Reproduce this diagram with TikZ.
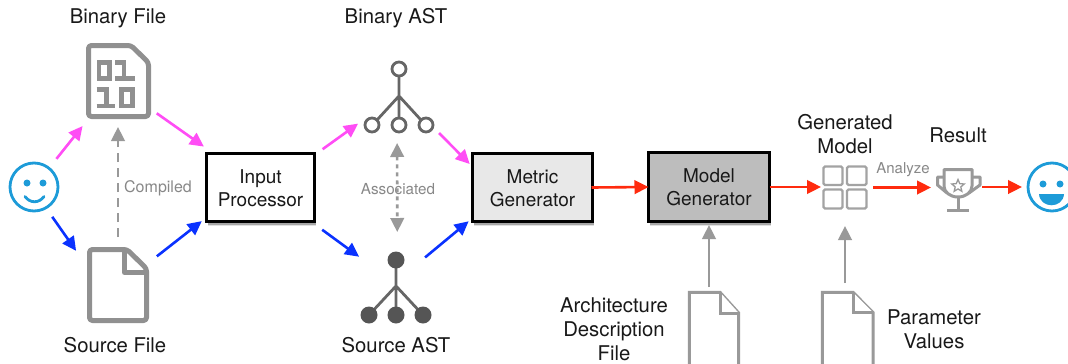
\documentclass[tikz,border=0pt]{standalone}
\usepackage{fontspec}
\setmainfont{TeX Gyre Heros}
\usetikzlibrary{arrows.meta,shadows,shapes.geometric}
\definecolor{pinkc}{HTML}{FF4DF5}
\definecolor{bluec}{HTML}{0A32FF}
\definecolor{redc}{HTML}{FF2B0E}
\definecolor{greyc}{HTML}{999999}
\definecolor{iconc}{HTML}{909090}
\definecolor{astc}{HTML}{666666}
\definecolor{astf}{HTML}{555555}
\definecolor{smilec}{HTML}{1D9BD8}
\definecolor{labelc}{HTML}{888888}
\newcommand\bxl[1]{\smash{\raisebox{-7.5pt}{#1}}}
\newcommand\bxm[1]{\smash{\raisebox{-7pt}{#1}}}
\tikzset{
  lbl/.style={inner sep=0,align=center,text=black!90,font=\fontsize{20.3}{24}\selectfont},
  small/.style={inner sep=0,text=labelc,font=\fontsize{16}{19}\selectfont},
  procbox/.style={draw=black,line width=3pt,inner sep=0,outer sep=0,align=center,
    font=\fontsize{19}{23}\selectfont,text=black!90,
    drop shadow={shadow xshift=1.5pt,shadow yshift=-4.5pt,opacity=.12,fill=black},
    drop shadow={shadow xshift=1pt,shadow yshift=-3pt,opacity=.25,fill=black}},
  hold/.style={inner sep=0,outer sep=0,rectangle},
  arr/.style={line width=2.6pt,-{Triangle[length=14pt,width=13.5pt]}},
  pinkarr/.style={arr,color=pinkc},
  bluearr/.style={arr,color=bluec},
  redarr/.style={arr,color=redc},
  greyarr/.style={arr,color=greyc},
  iconline/.style={draw=iconc,line width=5pt,line join=round},
  digit/.style={draw=iconc,line width=4.8pt},
  paper/.style={draw=greyc,line width=3pt,fill=white},
  astl/.style={draw=astc,line width=2.8pt},
  cell/.style={draw=greyc!90,line width=2.2pt,rounded corners=1.5pt},
  cup/.style={draw=greyc,line width=3pt,line join=round},
  smile/.style={draw=smilec,line width=2.8pt},
}
\begin{document}
\begin{tikzpicture}[x=1pt,y=-1pt]
\clip (0,0) rectangle (1068,364);
\fill[white] (0,0) rectangle (1068,364);

% placeholders for icons
\node[hold,circle,minimum size=50pt] (smileL) at (34,187) {};
\node[hold,circle,minimum size=50pt] (smileR) at (1052,187) {};
\node[hold,minimum width=65pt,minimum height=76pt] (binfile) at (118.5,81) {};
\node[hold,minimum width=62pt,minimum height=76pt] (srcfile) at (118,285) {};
\node[hold,minimum width=70pt,minimum height=71pt] (binast) at (399,97.5) {};
\node[hold,minimum width=70pt,minimum height=73pt] (srcast) at (396,287.5) {};
\node[hold,minimum width=44pt,minimum height=43pt] (grid) at (845,187.5) {};
\node[hold,minimum width=43pt,minimum height=44pt] (trophy) at (958.5,190) {};
\node[hold,minimum width=52pt,minimum height=89pt] (archfile) at (714,335.5) {};
\node[hold,minimum width=53pt,minimum height=89pt] (paramfile) at (847.5,335.5) {};

% boxes
\node[procbox,fill=white,minimum width=108pt,minimum height=68pt] (input) at (260.5,187.5) {\bxl{Input}\\\bxl{Processor}};
\node[procbox,fill=black!9,minimum width=120pt,minimum height=68pt] (metric) at (532.5,187.5) {\bxl{Metric}\\\bxl{Generator}};
\node[procbox,fill=black!26,minimum width=121pt,minimum height=69pt] (model) at (709,187) {\bxm{Model}\\\bxm{Generator}};

% labels
\node[lbl] (tbinfile) at (118,18) {Binary File};
\node[lbl] (tsrcfile) at (115,345) {Source File};
\node[lbl] (tbinast) at (396,18) {Binary AST};
\node[lbl] (tsrcast) at (396,345) {Source AST};
\node[lbl] (tarch) at (614,329) {Architecture\\Description\\File};
\node[lbl] (tparam) at (934,329.5) {Parameter\\Values};
\node[lbl] (tgen) at (845,134.5) {Generated\\Model};
\node[lbl] (tres) at (958,135) {Result};
\node[small] (tcomp) at (158,188) {Compiled};
\node[small,font=\fontsize{15.2}{18}\selectfont] (tassoc) at (398,189) {Associated};
\node[small,font=\fontsize{15}{18}\selectfont] (tana) at (903,170) {Analyze};

% smileys
\draw[smile] (smileL) circle (24pt);
\fill[smilec] (27,183) circle (3.5pt) (43,183) circle (3.5pt);
\draw[smile,line cap=round] (25,196.5) .. controls (30,203.5) and (39,203.5) .. (44,196.5);
\draw[smile] (smileR) circle (24pt);
\fill[smilec] (1043,184) circle (3.5pt) (1060,184) circle (3.5pt);
\fill[smilec] (1039,194) -- (1064,194) .. controls (1063,209) and (1040,209) .. (1039,194) -- cycle;

% binary file icon
\draw[iconline,rounded corners=3pt] (88.5,45.5) -- (131,45.5) -- (148.5,62.5) -- (148.5,116.5) -- (88.5,116.5) -- cycle;
\draw[digit] (99,62.4) rectangle (109.4,78.3);
\draw[digit] (115,62.4) -- (124,62.4) -- (124,78.3) (115,78.3) -- (135,78.3);
\draw[digit] (96.7,89.6) -- (106.5,89.6) -- (106.5,106) (96.7,106) -- (115,106);
\draw[digit] (121.7,89.6) rectangle (132.6,106);

% source file icon
\draw[iconline,rounded corners=3pt] (89.5,249.5) -- (127,249.5) -- (146.5,268.5) -- (146.5,320.5) -- (89.5,320.5) -- cycle;
\draw[iconline] (124.5,250) -- (124.5,272.5) -- (146,272.5);

% paper icons
\draw[paper] (689.3,292.3) -- (720,292.3) -- (738.7,313) -- (738.7,380) -- (689.3,380) -- cycle;
\draw[paper] (720,292.3) -- (720,313) -- (738.7,313);
\draw[paper] (822.3,292.3) -- (853,292.3) -- (873,312.5) -- (873,380) -- (822.3,380) -- cycle;
\draw[paper] (853,292.3) -- (853,312.5) -- (873,312.5);

% binary AST
\draw[astl] (399,76) -- (399,118) (399,96) -- (377,120) (399,96) -- (421,120);
\foreach \p in {(399,69),(372,125),(399,125),(426,125)} \draw[astl,fill=white] \p circle (7pt);
% source AST
\draw[astl] (396,260) -- (396,315) (396,286) -- (369,315) (396,286) -- (423,315);
\foreach \p in {(396,260),(369,315),(396,315),(423,315)} \fill[astf] \p circle (8.5pt);

% grid
\draw[cell] (823.5,166.5) rectangle (842.5,185);
\draw[cell] (847,166.5) rectangle (866.5,185);
\draw[cell] (823.5,189.5) rectangle (842.5,208.5);
\draw[cell] (847,189.5) rectangle (866.5,208.5);

% trophy
\draw[cup] (944,169.5) -- (972,169.5) -- (972,186) .. controls (972,192) and (966,197) .. (958,197) .. controls (950,197) and (944,192) .. (944,186) -- cycle;
\draw[cup] (958,197) -- (958,210) (947,210.5) -- (969,210.5);
\draw[cup] (944,177) -- (937.5,177) -- (937.5,185) -- (947,193);
\draw[cup] (972,177) -- (980,177) -- (980,185) -- (969,193);
\node[star,star points=5,star point ratio=2.2,draw=greyc,line width=1.3pt,minimum size=13pt,inner sep=0] (tstar) at (958,186) {};

% connectors
\draw[pinkarr,shorten <=11pt,shorten >=9pt] (smileL) -- (binfile);
\draw[bluearr,shorten <=10pt,shorten >=19pt] (smileL.-60.8) -- (srcfile.149.3);
\draw[pinkarr,shorten <=7pt,shorten >=12pt] (binfile.-41.7) -- (input.144.6);
\draw[bluearr,shorten <=10pt,shorten >=6pt] (srcfile.36.6) -- (input.209.9);
\draw[pinkarr,shorten <=10pt,shorten >=7.3pt] (input.31.9) -- (binast.212.6);
\draw[pinkarr,shorten <=7.2pt,shorten >=4pt] (binast.-41.8) -- (metric.161.65);
\draw[bluearr,shorten <=14pt,shorten >=2.4pt] (input.-34.9) -- (srcast.140.3);
\draw[bluearr,shorten <=-7.7pt,shorten >=5pt] (srcast.45.2) -- (metric.207.9);
\draw[redarr,shorten <=-1pt] (metric.east) -- (model.west);
\draw[redarr,shorten >=2pt] (model.east) -- (grid.west |- model.east);
\draw[redarr,shorten <=6pt,shorten >=6pt] (grid.east) -- (trophy.west |- grid.east);
\draw[redarr,shorten <=2pt,shorten >=5pt] (trophy.east |- smileR) -- (smileR.west);
\draw[greyarr,shorten <=4pt,shorten >=3.5pt] (model |- archfile.north) -- (model.south);
\draw[greyarr,shorten <=8pt,shorten >=17pt] (grid |- paramfile.north) -- (grid.south);
\draw[greyarr,dash pattern=on 9pt off 6pt,shorten <=10pt,shorten >=8pt] (srcfile.north) -- (srcfile.north |- binfile.south);
\draw[line width=2.6pt,color=greyc,{Triangle[length=14pt,width=13.5pt]}-{Triangle[length=14pt,width=13.5pt]},dash pattern=on 4pt off 4pt,shorten <=10pt,shorten >=19pt] (binast.-93.2) -- (srcast.88.4);
\end{tikzpicture}
\end{document}
